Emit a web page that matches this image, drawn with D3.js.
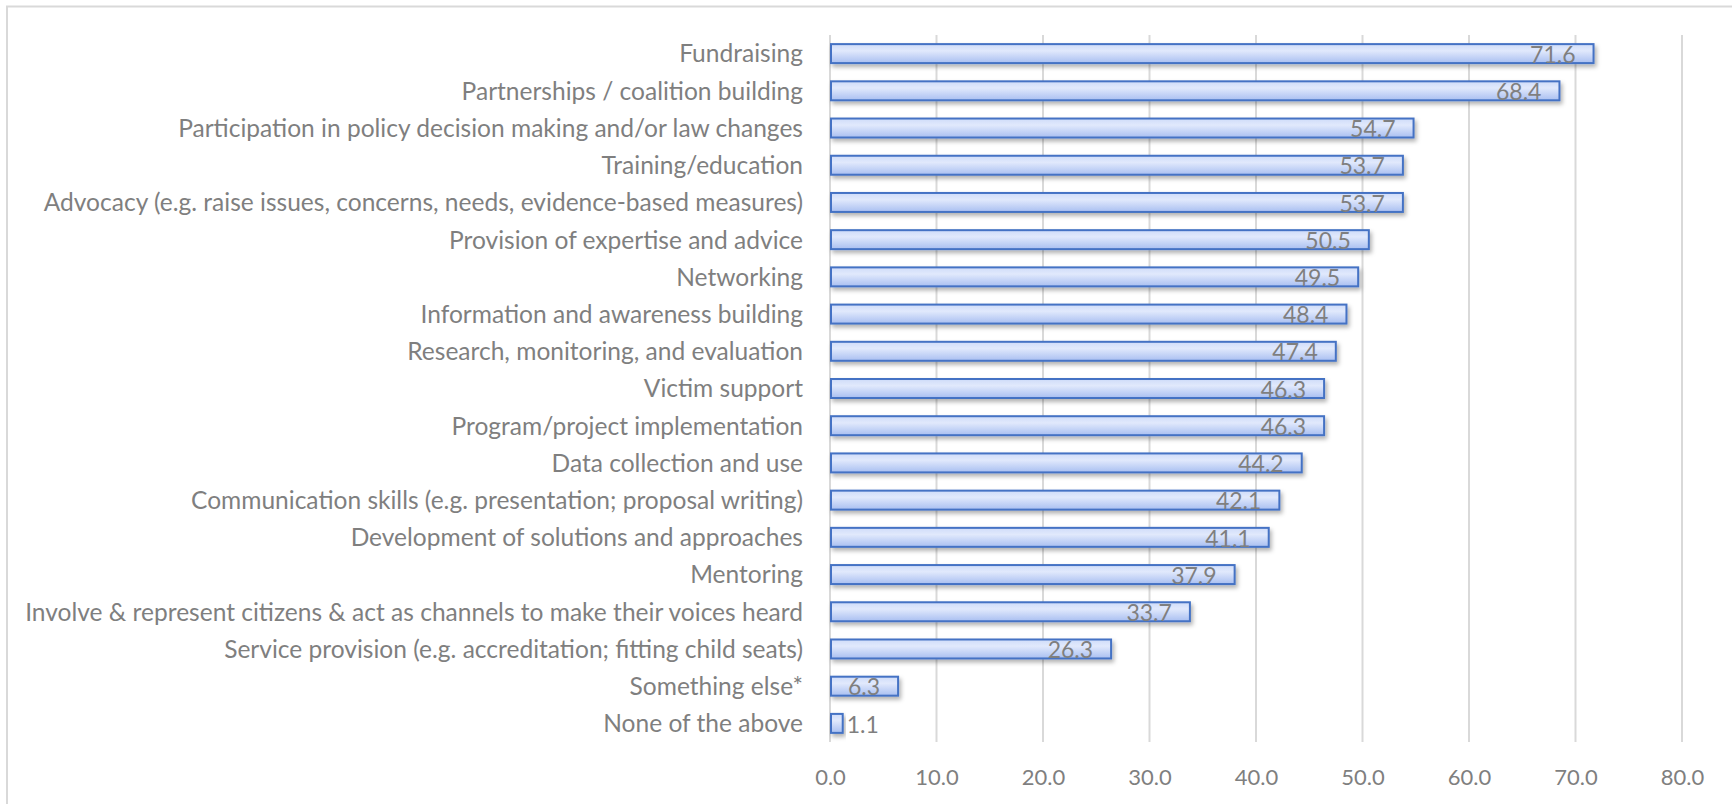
<!DOCTYPE html>
<html>
<head>
<meta charset="utf-8">
<script src="https://cdn.jsdelivr.net/npm/d3@7/dist/d3.min.js"></script>
<style>
  html, body { margin: 0; padding: 0; background: #fff; }
  svg { display: block; }
  text { font-family: Lato, "Noto Sans", sans-serif; fill: #7f7f7f; }
</style>
</head>
<body>
<svg id="chart" width="1732" height="804"></svg>
<script>
// Activities, listed top to bottom
const categories = [
  "Fundraising",
  "Partnerships / coalition building",
  "Participation in policy decision making and/or law changes",
  "Training/education",
  "Advocacy (e.g. raise issues, concerns, needs, evidence-based measures)",
  "Provision of expertise and advice",
  "Networking",
  "Information and awareness building",
  "Research, monitoring, and evaluation",
  "Victim support",
  "Program/project implementation",
  "Data collection and use",
  "Communication skills (e.g. presentation; proposal writing)",
  "Development of solutions and approaches",
  "Mentoring",
  "Involve & represent citizens & act as channels to make their voices heard",
  "Service provision (e.g. accreditation; fitting child seats)",
  "Something else*",
  "None of the above"
];

// Share of respondents (%)
const values = [71.6, 68.4, 54.7, 53.7, 53.7, 50.5, 49.5, 48.4, 47.4, 46.3, 46.3, 44.2, 42.1, 41.1, 37.9, 33.7, 26.3, 6.3, 1.1];

// Value axis ticks
const tickValues = [0, 10, 20, 30, 40, 50, 60, 70, 80];

const svg = d3.select("#chart");
const W = 1732, H = 804;
const plot = { left: 830, right: 1682, top: 35, bottom: 742 };

// Outer chart frame (top and left edges visible)
svg.append("path")
  .attr("d", `M7,${H} V6.5 H${W}`)
  .attr("fill", "none")
  .attr("stroke", "#d9d9d9")
  .attr("stroke-width", 2);

const x = d3.scaleLinear().domain([0, 80]).range([plot.left, plot.right]);
const y = d3.scaleBand().domain(categories).range([plot.top, plot.bottom]).paddingInner(0.49).paddingOuter(0.245);

const defs = svg.append("defs");
const grad = defs.append("linearGradient").attr("id", "barFill")
  .attr("x1", 0).attr("y1", 0).attr("x2", 0).attr("y2", 1);
grad.append("stop").attr("offset", "0%").attr("stop-color", "#cfdcf9");
grad.append("stop").attr("offset", "35%").attr("stop-color", "#e1e9fc");
grad.append("stop").attr("offset", "100%").attr("stop-color", "#a9bff1");

const shadow = defs.append("filter").attr("id", "barShadow")
  .attr("x", "-10%").attr("y", "-50%").attr("width", "130%").attr("height", "250%");
shadow.append("feDropShadow")
  .attr("dx", 2).attr("dy", 3).attr("stdDeviation", 2)
  .attr("flood-color", "#000").attr("flood-opacity", 0.3);

// Vertical gridlines
svg.append("g").selectAll("line")
  .data(tickValues)
  .join("line")
  .attr("x1", d => x(d)).attr("x2", d => x(d))
  .attr("y1", plot.top).attr("y2", plot.bottom)
  .attr("stroke", "#d9d9d9")
  .attr("stroke-width", 2);

// Bottom axis labels
const xAxis = d3.axisBottom(x).tickValues(tickValues).tickFormat(d3.format(".1f")).tickSize(0).tickPadding(0);
const gx = svg.append("g").attr("transform", `translate(0,${plot.bottom})`).call(xAxis);
gx.select(".domain").remove();
gx.selectAll("text")
  .attr("dy", null)
  .attr("y", 43)
  .style("font-size", "22px")
  .style("fill", "#7f7f7f")
  .style("font-family", "Lato, 'Noto Sans', sans-serif");

// Bars
const data = categories.map((c, i) => ({ c, v: values[i] }));
svg.append("g").selectAll("rect")
  .data(data)
  .join("rect")
  .attr("x", x(0) + 1)
  .attr("y", d => y(d.c))
  .attr("width", d => x(d.v) - x(0))
  .attr("height", y.bandwidth())
  .attr("fill", "url(#barFill)")
  .attr("stroke", "#4472c4")
  .attr("stroke-width", 2)
  .attr("filter", "url(#barShadow)");

// Category labels (left axis)
const yAxis = d3.axisLeft(y).tickSize(0).tickPadding(0);
const gy = svg.append("g").attr("transform", `translate(803,0)`).call(yAxis);
gy.select(".domain").remove();
const catText = gy.selectAll("text")
  .attr("dy", "0.36em")
  .style("fill", "#7f7f7f")
  .style("font-family", "Lato, 'Noto Sans', sans-serif")
  .style("font-size", "20px");
// Size the labels so the longest one spans the available width
let longest = 0;
catText.each(function () { longest = Math.max(longest, this.getComputedTextLength()); });
const fs = 20 * 778 / longest;
catText.style("font-size", fs.toFixed(2) + "px");

// Value labels: inside end, or just outside for tiny bars
svg.append("g").selectAll("text")
  .data(data)
  .join("text")
  .attr("x", d => (x(d.v) - x(0) > 45) ? x(d.v) - 17 : x(d.v) + 5)
  .attr("y", d => y(d.c) + y.bandwidth() / 2)
  .attr("dy", "0.4em")
  .attr("text-anchor", d => (x(d.v) - x(0) > 45) ? "end" : "start")
  .style("font-size", "23px")
  .text(d => d3.format(".1f")(d.v));
</script>
</body>
</html>
